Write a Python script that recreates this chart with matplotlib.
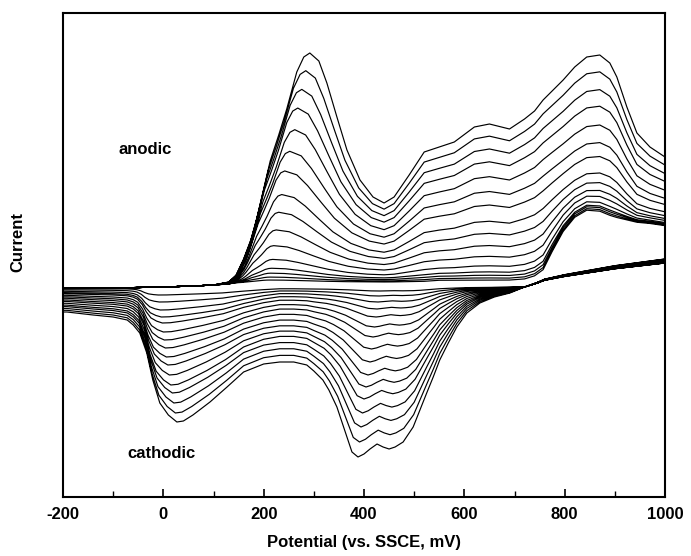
import numpy as np
import matplotlib
matplotlib.use("Agg")
import matplotlib.pyplot as plt

plt.rcParams['axes.unicode_minus'] = False

# Voltamograma ciclico - eletropolimerizacao (corrente em unidades arbitrarias)

# varredura anodica: nos de potencial (mV)
E_an = [-200, -100, 0, 60, 100, 130, 145, 160, 175, 187, 200, 213, 230, 246, 266, 280,
        292, 310, 326, 346, 366, 392, 418, 440, 460, 490, 520, 550, 580, 620, 650, 690,
        720, 740, 757, 775, 797, 820, 844, 870, 890, 904, 924, 944, 970, 1000]
# ciclo mais externo
I_an_ext = [-1, -1, 0, 1, 2, 5, 12, 28, 48, 70, 98, 126, 152, 178, 215, 230,
            234, 226, 204, 170, 137, 107, 90, 84, 90, 112, 135, 140, 145, 160, 163, 158,
            168, 176, 187, 196, 207, 220, 230, 232, 224, 210, 180, 154, 140, 130]
# ciclo mais interno (linha de base)
I_an_base = [-1, -1, 0, 1, 2, 3, 4, 4, 4, 4, 4, 4, 4, 4, 4, 4,
             4, 4, 4, 4, 4, 4, 4, 4, 4, 4, 4, 5, 5, 5, 5, 5,
             6, 6, 7, 8, 9, 10, 12, 13, 14, 15, 17, 19, 22, 25]
# ombro de oxidacao do monomero (~800 mV)
I_ombro = [0, 0, 0, 0, 0, 0, 0, 0, 0, 0, 0, 0, 0, 0, 0, 0,
           0, 0, 0, 0, 0, 0, 0, 0, 0, 0, 0, 0, 0, 0, 0, 0,
           0, 3, 8, 25, 44, 57, 62, 60, 55, 52, 48, 44, 40, 35]

# varredura catodica (de 1000 para -200 mV), ciclo mais externo
E_ca = [1000, 950, 900, 850, 800, 760, 745, 720, 691, 660, 631, 605, 585, 568, 551, 538,
        525, 510, 498, 478, 462, 450, 438, 426, 412, 400, 388, 376, 366, 346, 330, 318,
        300, 286, 260, 232, 200, 160, 127, 93, 59, 40, 27, 10, -7, -21, -33, -47,
        -60, -72, -100, -140, -192, -200]
I_ca_ext = [25, 22, 19, 15, 11, 7, 4, 0, -6, -10, -16, -26, -40, -56, -73, -90,
            -106, -125, -140, -155, -160, -162, -160, -157, -162, -167, -170, -165, -150, -120, -103, -93,
            -84, -78, -75, -75, -77, -85, -100, -115, -128, -134, -135, -128, -116, -93, -66, -46,
            -38, -33, -30, -28, -25, -25]

# valores por ciclo (do mais interno para o mais externo)
pico_an = [3, 6, 10, 15, 24, 38, 54, 72, 90, 114, 134, 156, 178, 197, 216, 234]
Ep_an = [212, 213, 214, 216, 218, 220, 225, 230, 236, 242, 252, 262, 268, 276, 284, 292]
ombro = [1.0, 0.98, 0.95, 0.9, 0.82, 0.7, 0.55, 0.4, 0.28, 0.18, 0.1, 0.05, 0.02, 0.0, 0.0, 0.0]
vale1 = [8, 15, 23, 30, 36, 45, 53, 61, 70, 78, 88, 98, 106, 116, 126, 135]
T1 = [-10, -8, -6, -4, -2, 0, 2, 4, 6, 9, 12, 15, 18, 21, 24, 27]
vale2 = [4, 9, 15, 22, 30, 40, 50, 62, 75, 88, 100, 112, 126, 140, 155, 170]
T2 = [432, 430, 428, 426, 424, 421, 418, 415, 412, 408, 404, 400, 397, 394, 391, 388]
ca_1000 = [24, 24, 24, 25, 25, 25, 25, 26, 26, 26, 26, 27, 27, 27, 28, 28]


def desloca(E, a, p_velho, p_novo, b):
    # move o pico de p_velho para p_novo mantendo a e b fixos
    E = np.asarray(E, float)
    novo = E.copy()
    m1 = (E >= a) & (E <= p_velho)
    m2 = (E > p_velho) & (E <= b)
    novo[m1] = a + (E[m1] - a) * (p_novo - a) / (p_velho - a)
    novo[m2] = p_novo + (E[m2] - p_velho) * (b - p_novo) / (b - p_velho)
    return novo


P = np.array(I_an_ext, float)
B = np.array(I_an_base, float)
H = np.array(I_ombro, float)
C = np.array(I_ca_ext, float)
Ec0 = np.array(E_ca, float)
peso = np.clip((Ec0 - 130) / 100, 0, 1)

X = []
Y = []
for k in range(len(pico_an)):
    f = pico_an[k] / 234
    Ea = desloca(E_an, 140, 292, Ep_an[k], 440)
    Ia = B + f * (P - B) + ombro[k] * H
    g = (vale1[k] / 135) * (1 - peso) + (vale2[k] / 170) * peso
    Ic = np.where(C >= 0, C * ca_1000[k] / 25, g * C)
    Ec = desloca(Ec0, -60, 27, T1[k], 160)
    Ec = desloca(Ec, 300, 388, T2[k], 551)
    X.extend(Ea)
    X.extend(Ec)
    Y.extend(Ia)
    Y.extend(Ic)

fig = plt.figure(figsize=(6.91, 5.56), dpi=100)
ax = fig.add_axes([63 / 691, 1 - 497 / 556, (665 - 63) / 691, (497 - 13) / 556])
ax.plot(X, Y, color='black', lw=0.85)

ax.set_xlim(-200, 1000)
ax.set_ylim(-210, 274)
ax.set_xticks(np.arange(-200, 1001, 200))
ax.set_xticks(np.arange(-100, 1000, 200), minor=True)
ax.set_yticks([])
ax.tick_params(axis='x', which='major', direction='in', length=6, width=1.2, pad=7,
               labelsize=12)
ax.tick_params(axis='x', which='minor', direction='in', length=4, width=1.0)
for lab in ax.get_xticklabels():
    lab.set_fontweight('bold')
    lab.set_family('Liberation Sans')
for s in ax.spines.values():
    s.set_linewidth(1.5)

ax.text(-37, 138, 'anodic', fontsize=12, fontweight='bold', family='Liberation Sans',
        ha='center', va='center')
ax.text(-3, -166, 'cathodic', fontsize=12, fontweight='bold', family='Liberation Sans',
        ha='center', va='center')
fig.text(364 / 691, 1 - 543 / 556, 'Potential (vs. SSCE, mV)', fontsize=12,
         fontweight='bold', family='Liberation Sans', ha='center', va='center')
fig.text(18 / 691, 1 - 242 / 556, 'Current', fontsize=12, fontweight='bold',
         family='Liberation Sans', rotation=90, ha='center', va='center')

fig.savefig('out.png', dpi=100)
